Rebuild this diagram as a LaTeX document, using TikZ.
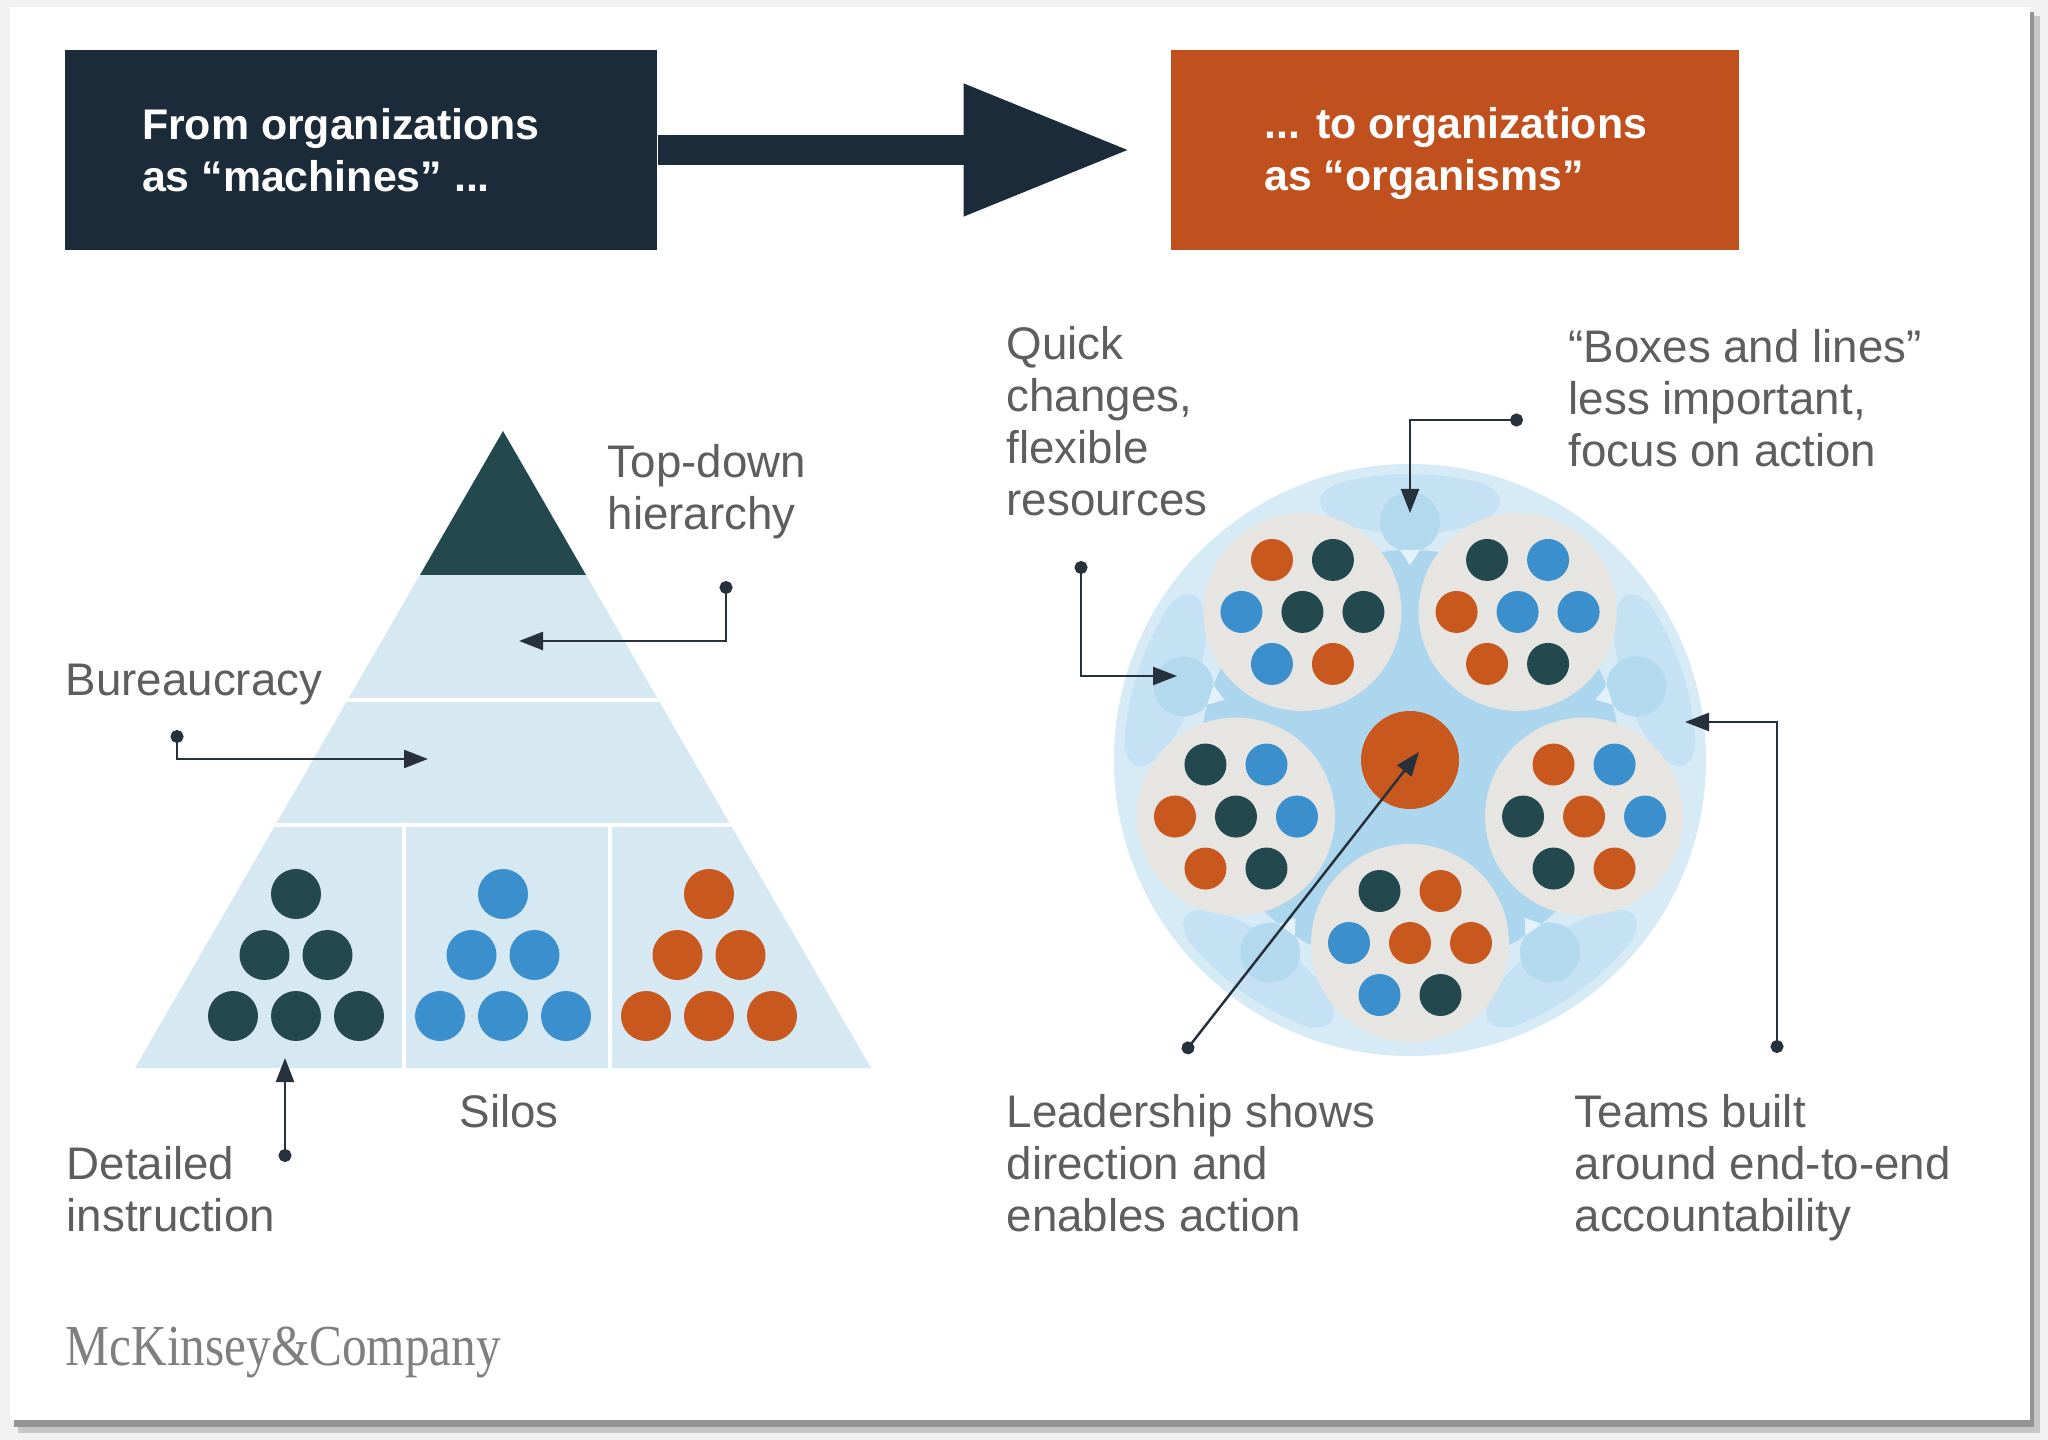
\documentclass[tikz,border=0pt]{standalone}
\usepackage{fontspec}
\setmainfont{Liberation Sans}
\newfontfamily\logofont[FakeStretch=0.85]{Liberation Serif}
\usetikzlibrary{ positioning, calc, arrows.meta }
\definecolor{machinenavy}{RGB}{28,43,57}
\definecolor{organismorange}{RGB}{192,80,30}
\definecolor{dotteal}{RGB}{35,73,79}
\definecolor{dotblue}{RGB}{59,143,205}
\definecolor{dotorange}{RGB}{201,88,31}
\definecolor{pyrblue}{RGB}{214,233,243}
\definecolor{ringblue}{RGB}{214,235,246}
\definecolor{midblue}{RGB}{172,214,238}
\definecolor{headblue}{RGB}{179,217,239}
\definecolor{shoulderblue}{RGB}{196,226,243}
\definecolor{collarblue}{RGB}{226,241,250}
\definecolor{teamgrey}{RGB}{231,229,226}
\definecolor{labelgrey}{RGB}{94,94,94}
\definecolor{logogrey}{RGB}{127,127,127}
\definecolor{pointerdark}{RGB}{38,49,59}
\definecolor{pagegrey}{RGB}{241,241,241}

% one team: grey disc with seven members
\newcommand{\teamdots}[8]{%
  \fill[teamgrey] (#1) circle (9.9mm);
  \fill[#2] ($(#1)+(-30.5,-52)$) circle (2.1mm);
  \fill[#3] ($(#1)+(30.5,-52)$) circle (2.1mm);
  \fill[#4] ($(#1)+(-61,0)$) circle (2.1mm);
  \fill[#5] (#1) circle (2.1mm);
  \fill[#6] ($(#1)+(61,0)$) circle (2.1mm);
  \fill[#7] ($(#1)+(-30.5,52)$) circle (2.1mm);
  \fill[#8] ($(#1)+(30.5,52)$) circle (2.1mm);
}

\begin{document}
\begin{tikzpicture}[x=0.1mm, y=-0.1mm,
headbox/.style={rectangle, fill=#1, minimum height=20mm, inner sep=0pt},
headtext/.style={inner sep=0pt, align=left, text=white,
font=\fontsize{12.2pt}{14.8pt}\selectfont\bfseries},
lbl/.style={anchor=north west, inner sep=0pt, align=left, text=labelgrey,
font=\fontsize{13pt}{14.8pt}\selectfont},
pointer/.style={{Circle[length=1.3mm]}-{Triangle[length=2.4mm,width=1.8mm]},
line width=0.7pt, draw=pointerdark},
bigarrow/.style={-{Triangle[length=16.7mm,width=12.4mm]}, line width=3mm,
draw=machinenavy, shorten >=4mm}
]
\useasboundingbox (0,0) rectangle (2048,1440);

% Card
\fill[pagegrey] (0,0) rectangle (2048,1440);
\fill[black!22] (18,16) rectangle (2040,1433);
\fill[black!42] (14,12) rectangle (2034,1427);
\fill[white] (10,7) rectangle (2030,1420);

% Header
\node[headbox=machinenavy, minimum width=59.2mm] (machine) at (361,150) {};
\node[headbox=organismorange, minimum width=56.8mm, right=51.3mm of machine] (organism) {};
\node[headtext, right=7.7mm of machine.west] (machinetxt)
{From organizations\\as “machines” ...};
\node[headtext, right=9.3mm of organism.west, yshift=-0.4mm] (organismtxt)
{... to organizations\\as “organisms”};
\draw[bigarrow] (machine) -- (organism);

% Pyramid
\fill[pyrblue] (135,1068) -- (503,431) -- (871,1068) -- cycle;
\fill[dotteal] (503,431) -- (420,575) -- (586,575) -- cycle;
\begin{scope}
\clip (135,1068) -- (503,431) -- (871,1068) -- cycle;
\draw[white, line width=0.35mm] (100,700) -- (900,700) (100,825) -- (900,825)
(404,825) -- (404,1070) (610,825) -- (610,1070);
\end{scope}

% Silos
\foreach \gx/\col in {296/dotteal, 503/dotblue, 709/dotorange} {
\foreach \dx/\dy in {0/894, -31.5/955, 31.5/955, -63/1016, 0/1016, 63/1016}
\fill[\col] (\gx+\dx,\dy) circle (2.5mm);
}

% Organism
\coordinate (hub) at (1410,760);
\fill[ringblue] (hub) circle (29.6mm);
\begin{scope}
\clip (hub) circle (28.6mm);
\foreach \g in {270,198,342,126,54} {
\begin{scope}[shift={(hub)}, rotate=-\g]
\fill[shoulderblue] (258,0) ellipse (3.2mm and 9mm);
\end{scope}
}
\end{scope}
\fill[midblue] (hub) circle (21mm);
\foreach \g in {270,198,342,126,54} {
\begin{scope}[shift={(hub)}, rotate=-\g]
\fill[headblue] (238,0) circle (3mm);
\fill[collarblue] (210,-10) -- (210,10) -- (195,0) -- cycle;
\end{scope}
}

% Teams
\coordinate (teamTL) at ($(hub)+(234:183)$);
\coordinate (teamTR) at ($(hub)+(306:183)$);
\coordinate (teamL) at ($(hub)+(162:183)$);
\coordinate (teamR) at ($(hub)+(18:183)$);
\coordinate (teamB) at ($(hub)+(90:183)$);
\teamdots{teamTL}{dotorange}{dotteal}{dotblue}{dotteal}{dotteal}{dotblue}{dotorange}
\teamdots{teamTR}{dotteal}{dotblue}{dotorange}{dotblue}{dotblue}{dotorange}{dotteal}
\teamdots{teamL}{dotteal}{dotblue}{dotorange}{dotteal}{dotblue}{dotorange}{dotteal}
\teamdots{teamR}{dotorange}{dotblue}{dotteal}{dotorange}{dotblue}{dotteal}{dotorange}
\teamdots{teamB}{dotteal}{dotorange}{dotblue}{dotorange}{dotorange}{dotblue}{dotteal}

% Leadership
\node[circle, fill=dotorange, minimum size=9.8mm, inner sep=0pt] (lead) at (hub) {};

% Labels
\node[lbl] (topdown) at (607,444) {Top-down\\hierarchy};
\node[lbl] (bureau) at (65,663) {Bureaucracy};
\node[lbl] (silos) at (459,1094) {Silos};
\node[lbl] (detail) at (66,1146) {Detailed\\instruction};
\node[lbl] (quick) at (1006,326) {Quick\\changes,\\flexible\\resources};
\node[lbl] (boxes) at (1568,329) {“Boxes and lines”\\less important,\\focus on action};
\node[lbl] (leadtxt) at (1006,1094) {Leadership shows\\direction and\\enables action};
\node[lbl] (teamstxt) at (1574,1094) {Teams built\\around end-to-end\\accountability};
\node[anchor=base west, inner sep=0pt, text=logogrey,
font=\logofont\fontsize{16.5pt}{18pt}\selectfont] (logo) at (65,1365) {McKinsey\&Company};

% Pointers
\coordinate (hierdot) at (726,581);
\coordinate (hiertip) at (519,641);
\coordinate (bureaudot) at (177,730);
\coordinate (bureautip) at (428,759);
\coordinate (detaildot) at (285,1162);
\coordinate (detailtip) at (285,1058);
\coordinate (quickdot) at (1081,561);
\coordinate (quicktip) at (1177,676);
\coordinate (boxesdot) at (1523,420);
\coordinate (boxestip) at (1410,513);
\coordinate (teamsdot) at (1777,1053);
\coordinate (teamstip) at (1685,722);
\coordinate (leaddot) at (1184,1053);
\coordinate (leadtip) at (1419,752);

\draw[pointer] (hierdot) |- (hiertip);
\draw[pointer] (bureaudot) |- (bureautip);
\draw[pointer] (detaildot) -- (detailtip);
\draw[pointer] (quickdot) |- (quicktip);
\draw[pointer] (boxesdot) -| (boxestip);
\draw[pointer] (teamsdot) |- (teamstip);
\draw[pointer] (leaddot) -- (leadtip);

\end{tikzpicture}
\end{document}
